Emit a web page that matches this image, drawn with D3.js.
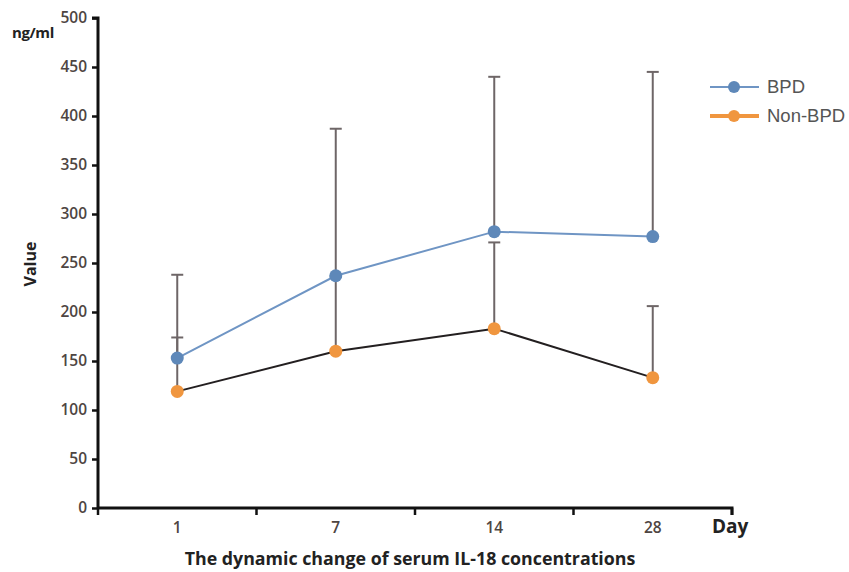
<!DOCTYPE html>
<html><head><meta charset="utf-8">
<script src="https://cdn.jsdelivr.net/npm/d3@7"></script>
<style>
body{margin:0;background:#fff;}
svg{display:block;}
</style></head>
<body><svg id="c" width="849" height="572"></svg>
<script>
const days = ["1","7","14","28"];
const bpdMean = [153, 237, 282, 277];
const bpdUpper = [238, 387, 440, 445];
const nonMean = [119, 160, 183, 133];
const nonUpper = [174, 236, 271, 206];
const yTicks = [0,50,100,150,200,250,300,350,400,450,500];

(function(){
const svg = d3.select("#c");
const pL = 98, pR = 732, pT = 18, pB = 508;
const x = d3.scaleBand().domain(days).range([pL, pR]);
const y = d3.scaleLinear().domain([0, 500]).range([pB, pT]);
const font = "'Open Sans', 'DejaVu Sans', sans-serif";
const labCol = "#4e4542";

// y axis
const ya = svg.append("g").attr("transform", `translate(${pL},0)`)
  .call(d3.axisLeft(y).tickValues(yTicks).tickSize(6).tickPadding(5));
ya.select(".domain").attr("stroke", "#111").attr("stroke-width", 3).attr("d", `M-6,${pT}H0V${pB}`);
ya.selectAll(".tick line").attr("stroke", "#111").attr("stroke-width", 2.5);
ya.selectAll(".tick text").attr("fill", labCol).attr("font-size", 15.5).attr("font-weight", 600).attr("font-family", font);

// x axis
const xa = svg.append("g").attr("transform", `translate(0,${pB})`)
  .call(d3.axisBottom(x).tickSize(0).tickPadding(14));
xa.select(".domain").attr("stroke", "#111").attr("stroke-width", 3).attr("d", `M${pL},0H${pR}V7`);
xa.selectAll(".tick text").attr("fill", labCol).attr("font-size", 15.5).attr("font-weight", 600).attr("font-family", font);
const bounds = days.map(d => x(d)).concat([x.range()[1]]);
xa.selectAll("line.bt").data(bounds).enter().append("line").attr("class", "bt")
  .attr("x1", d => d).attr("x2", d => d).attr("y1", 0).attr("y2", 7)
  .attr("stroke", "#111").attr("stroke-width", 2.5);

const cx = d => x(d) + x.bandwidth() / 2;

// error bars
function errBars(mean, upper) {
  const g = svg.append("g");
  days.forEach((d, i) => {
    g.append("line").attr("x1", cx(d)).attr("x2", cx(d))
      .attr("y1", y(mean[i])).attr("y2", y(upper[i]))
      .attr("stroke", "#6e6667").attr("stroke-width", 2);
    g.append("line").attr("x1", cx(d) - 6).attr("x2", cx(d) + 6)
      .attr("y1", y(upper[i])).attr("y2", y(upper[i]))
      .attr("stroke", "#6e6667").attr("stroke-width", 2);
  });
}
errBars(nonMean, nonUpper);
errBars(bpdMean, bpdUpper);

const line = d3.line().x((v, i) => cx(days[i])).y(v => y(v));
svg.append("path").attr("d", line(nonMean)).attr("fill", "none").attr("stroke", "#231f20").attr("stroke-width", 2);
svg.append("path").attr("d", line(bpdMean)).attr("fill", "none").attr("stroke", "#6f95c4").attr("stroke-width", 2);

svg.selectAll("circle.n").data(nonMean).enter().append("circle").attr("class", "n")
  .attr("cx", (v, i) => cx(days[i])).attr("cy", v => y(v)).attr("r", 6.5).attr("fill", "#f0963f");
svg.selectAll("circle.b").data(bpdMean).enter().append("circle").attr("class", "b")
  .attr("cx", (v, i) => cx(days[i])).attr("cy", v => y(v)).attr("r", 6.5).attr("fill", "#5e88b9");

// legend
const legend = [["BPD", "#6f95c4", "#5e88b9", 2], ["Non-BPD", "#f0963f", "#f0963f", 4]];
legend.forEach((l, i) => {
  const ly = 87 + i * 29;
  svg.append("line").attr("x1", 710).attr("x2", 759).attr("y1", ly).attr("y2", ly)
    .attr("stroke", l[1]).attr("stroke-width", l[3]);
  svg.append("circle").attr("cx", 734).attr("cy", ly).attr("r", 6).attr("fill", l[2]);
  svg.append("text").attr("x", 767).attr("y", ly + 6).text(l[0])
    .attr("font-family", "'Liberation Sans', Arial, sans-serif").attr("font-size", 18.5).attr("fill", "#555");
});

// labels
svg.append("text").attr("x", 12).attr("y", 38).text("ng/ml")
  .attr("font-family", font).attr("font-weight", "bold").attr("font-size", 15).attr("fill", "#222")
  .attr("letter-spacing", -0.4);
svg.append("text").attr("transform", "translate(36,264) rotate(-90)").attr("text-anchor", "middle")
  .text("Value").attr("font-family", font).attr("font-weight", "bold").attr("font-size", 16).attr("fill", "#222");
svg.append("text").attr("x", 712).attr("y", 533).text("Day")
  .attr("font-family", font).attr("font-weight", "bold").attr("font-size", 19).attr("fill", "#222");
svg.append("text").attr("x", 410).attr("y", 565).attr("text-anchor", "middle")
  .text("The dynamic change of serum IL-18 concentrations")
  .attr("font-family", font).attr("font-weight", "bold").attr("font-size", 17.8).attr("fill", "#222");
})();
</script></body></html>
